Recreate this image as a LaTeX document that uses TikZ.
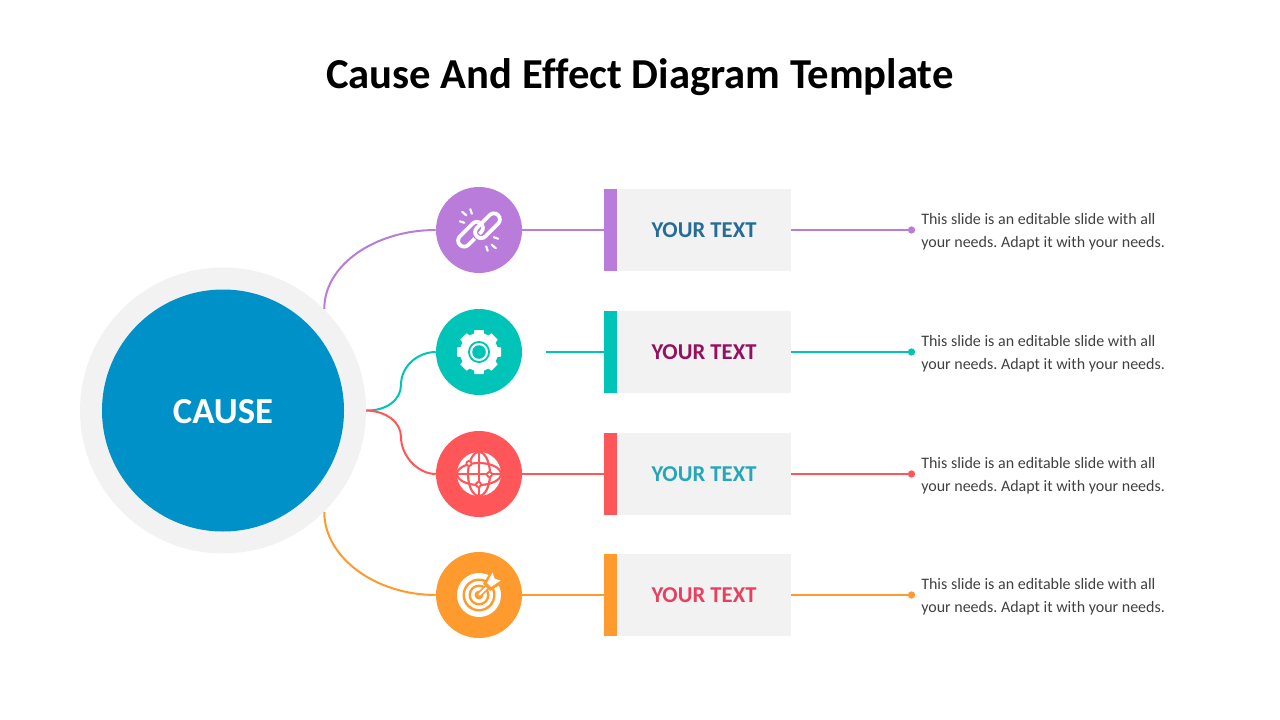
\documentclass[tikz,border=0pt]{standalone}
\usepackage{fontspec}
\setmainfont{Carlito}[Ligatures=NoCommon]
\frenchspacing
\definecolor{ringgray}{HTML}{F2F2F2}
\definecolor{causeblue}{HTML}{0091C8}
\definecolor{linkpurple}{HTML}{B97CDA}
\definecolor{gearteal}{HTML}{00C4B8}
\definecolor{globered}{HTML}{FF5659}
\definecolor{targetorange}{HTML}{FF9A2E}
\definecolor{labelblue}{HTML}{256D97}
\definecolor{labelplum}{HTML}{95105F}
\definecolor{labelcyan}{HTML}{26A6B8}
\definecolor{labelrose}{HTML}{E8415F}
\definecolor{bodygray}{HTML}{404040}
\begin{document}
\begin{tikzpicture}[x=0.75pt,y=-0.75pt]
    \tikzstyle{badge}=[circle,minimum size=64.5pt,inner sep=0pt]
    \tikzstyle{tag}=[minimum width=130.5pt,minimum height=61.5pt,inner sep=0pt,fill=ringgray,font=\fontsize{17}{17}\selectfont\bfseries]
    \tikzstyle{bar}=[minimum width=9.75pt,minimum height=61.5pt,inner sep=0pt]
    \tikzstyle{tip}=[circle,minimum size=5.5pt,inner sep=0pt]
    \tikzstyle{body}=[right,align=left,inner sep=0pt,text=bodygray,font=\fontsize{12}{17.25pt}\selectfont]
    \tikzstyle{wire}=[line width=1.5pt]
    \tikzstyle{spark}=[white,line width=1.6pt,line cap=round]
    \tikzstyle{chain}=[line width=2.8pt,rounded corners=4.4pt]
    \useasboundingbox (0,0) rectangle (1280,720);
    \node (title) at (640,77) {\fontsize{32}{32}\selectfont\bfseries Cause And Effect Diagram Template};
    \node[circle,fill=ringgray,minimum size=214.5pt,inner sep=0pt] (ring) at (223,410.5) {};
    \node[circle,fill=causeblue,minimum size=181.5pt,inner sep=0pt] (cause) at (223,410.5) {};
    \node[text=white,font=\fontsize{27.5}{28}\selectfont\bfseries] (causetext) at (223,412) {CAUSE};
    % first row
    \node[badge,fill=linkpurple] (link) at (479,230) {};
    \node[bar,fill=linkpurple] (barA) at (610.5,230) {};
    \node[tag,text=labelblue] (tagA) at (704,230) {YOUR TEXT};
    \node[tip,fill=linkpurple] (tipA) at (911.5,230) {};
    \node[body] (noteA) at (921,231.5) {This slide is an editable slide with all\\your needs. Adapt it with your needs.};
    \draw[wire,linkpurple] (link) -- (barA);
    \draw[wire,linkpurple] (tagA) -- (tipA);
    \draw[wire,linkpurple] (ring.45) .. controls (324,265) and (375,230) .. (link.west);
    \begin{scope}[shift={(link)}]
        \foreach \s in {1,-1} {
            \draw[spark] (-16.8*\s,-18.2*\s) -- (-12.7*\s,-14.7*\s);
            \draw[spark] (-8.7*\s,-20.8*\s) -- (-7.2*\s,-16.3*\s);
            \draw[spark] (-19.2*\s,-8.7*\s) -- (-14.7*\s,-7.2*\s);
        }
        \begin{scope}[rotate=45]
            \draw[chain,white] (-24,-9) rectangle (6,3);
            \draw[chain,linkpurple,line width=4.6pt] (-6,-3) rectangle (24,9);
            \draw[chain,white] (-6,-3) rectangle (24,9);
            \clip (3,-6) rectangle (9,0);
            \draw[chain,white] (-24,-9) rectangle (6,3);
        \end{scope}
    \end{scope}
    % second row
    \node[badge,fill=gearteal] (gear) at (479,352) {};
    \coordinate (gapB) at (546,352);
    \node[bar,fill=gearteal] (barB) at (610.5,352) {};
    \node[tag,text=labelplum] (tagB) at (704,352) {YOUR TEXT};
    \node[tip,fill=gearteal] (tipB) at (911.5,352) {};
    \node[body] (noteB) at (921,353.5) {This slide is an editable slide with all\\your needs. Adapt it with your needs.};
    \draw[wire,gearteal] (gapB) -- (barB);
    \draw[wire,gearteal] (tagB) -- (tipB);
    \draw[wire,gearteal] (ring.east) .. controls (386,411) and (401,400) .. (401,385) .. controls (401,366) and (418,352) .. (gear.west);
    \begin{scope}[shift={(gear)}]
        \fill[white] (0,0) circle[radius=19];
        \foreach \a in {0,45,...,315} {
            \fill[white,rotate=\a] (-5.5,-16) -- (5.5,-16) -- (4.5,-22) -- (-4.5,-22) -- cycle;
        }
        \fill[gearteal] (0,0) circle[radius=11];
        \fill[white] (0,0) circle[radius=9];
        \fill[gearteal] (0,0) circle[radius=6.8];
    \end{scope}
    % third row
    \node[badge,fill=globered] (globe) at (479,474) {};
    \node[bar,fill=globered] (barC) at (610.5,474) {};
    \node[tag,text=labelcyan] (tagC) at (704,474) {YOUR TEXT};
    \node[tip,fill=globered] (tipC) at (911.5,474) {};
    \node[body] (noteC) at (921,475.5) {This slide is an editable slide with all\\your needs. Adapt it with your needs.};
    \draw[wire,globered] (globe) -- (barC);
    \draw[wire,globered] (tagC) -- (tipC);
    \draw[wire,globered] (ring.east) .. controls (386,411) and (401,422) .. (401,437) .. controls (401,456) and (418,474) .. (globe.west);
    \begin{scope}[shift={(globe)}]
        \fill[white] (0,0) circle[radius=22];
        \draw[globered,line width=1.6pt] (0,0) ellipse[x radius=11,y radius=22];
        \draw[globered,line width=1.6pt] (0,0) ellipse[x radius=22,y radius=11];
        \draw[globered,line width=1.6pt] (0,-22) -- (0,22);
        \draw[globered,line width=1.6pt] (-22,0) -- (22,0);
        \foreach \p in {(-10,-10.5),(10.5,0.5),(-0.5,10.5)} {
            \fill[globered] \p circle[radius=3.6];
            \fill[white] \p circle[radius=1.7];
        }
    \end{scope}
    % fourth row
    \node[badge,fill=targetorange] (target) at (479,595) {};
    \node[bar,fill=targetorange] (barD) at (610.5,595) {};
    \node[tag,text=labelrose] (tagD) at (704,595) {YOUR TEXT};
    \node[tip,fill=targetorange] (tipD) at (911.5,595) {};
    \node[body] (noteD) at (921,596.5) {This slide is an editable slide with all\\your needs. Adapt it with your needs.};
    \draw[wire,targetorange] (target) -- (barD);
    \draw[wire,targetorange] (tagD) -- (tipD);
    \draw[wire,targetorange] (ring.-45) .. controls (324,557) and (375,595) .. (target.west);
    \begin{scope}[shift={(target)}]
        \fill[white] (0,0) circle[radius=22];
        \fill[targetorange] (0,0) circle[radius=16.5];
        \fill[white] (0,0) circle[radius=14];
        \fill[targetorange] (0,0) circle[radius=10.5];
        \fill[white] (0,0) circle[radius=8];
        \fill[targetorange] (0,0) circle[radius=4.5];
        \draw[targetorange,line width=4pt] (0,0) -- (13,-13);
        \draw[white,line width=1.7pt] (0,0) -- (13,-13);
        \fill[targetorange] (4,-11) -- (14,-27) -- (27,-14) -- (11,-4) -- cycle;
        \fill[white] (8,-12) -- (13.5,-22.5) -- (15.5,-16.5) -- (21.5,-14.5) -- (12,-8) -- cycle;
    \end{scope}
\end{tikzpicture}
\end{document}
